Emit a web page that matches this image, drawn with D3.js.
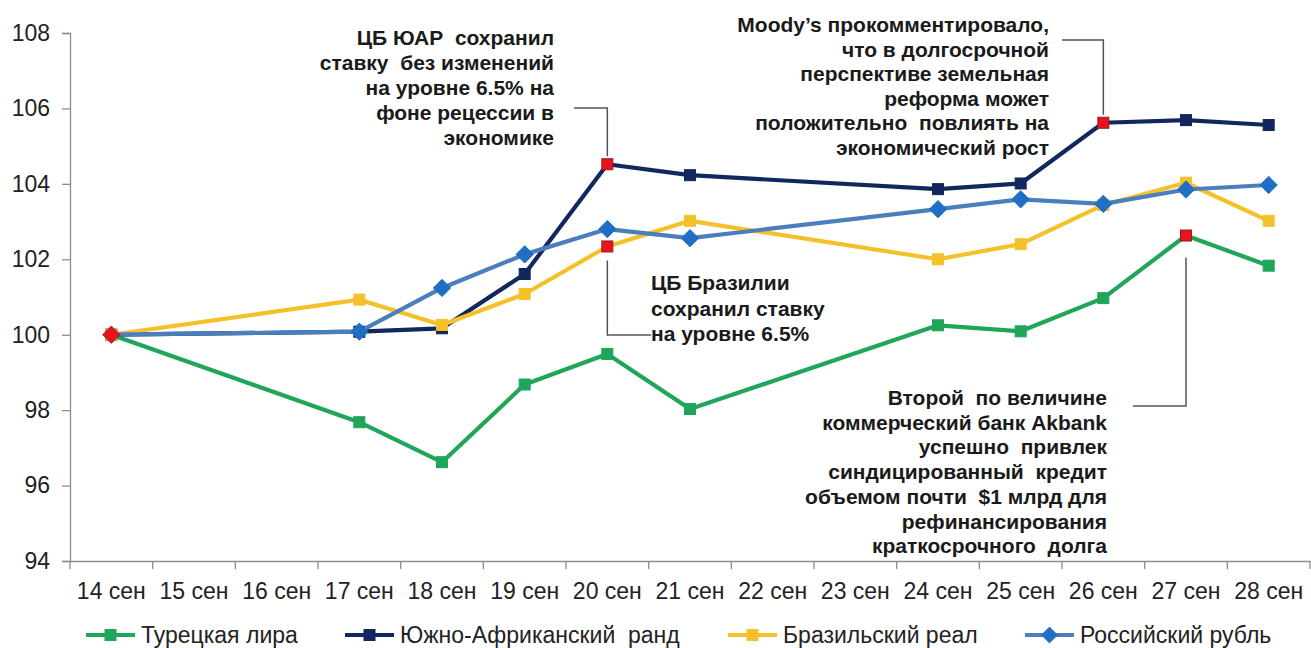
<!DOCTYPE html>
<html>
<head>
<meta charset="utf-8">
<script src="https://cdn.jsdelivr.net/npm/d3@7"></script>
<style>
  html, body { margin: 0; padding: 0; background: #fff; }
  svg { display: block; font-family: "Liberation Sans", Arial, sans-serif; }
</style>
</head>
<body>
<svg id="chart" width="1311" height="648"></svg>
<script>
// ---- data ----
const categories = ["14 сен","15 сен","16 сен","17 сен","18 сен","19 сен","20 сен","21 сен","22 сен","23 сен","24 сен","25 сен","26 сен","27 сен","28 сен"];
const yTicks = [94, 96, 98, 100, 102, 104, 106, 108];

const tryValues = [100, null, null, 97.68, 96.62, 98.68, 99.49, 98.03, null, null, 100.25, 100.09, 100.97, 102.63, 101.83];
const zarValues = [100, null, null, 100.08, 100.17, 101.61, 104.52, 104.23, null, null, 103.86, 104.01, 105.62, 105.69, 105.56];
const brlValues = [100, null, null, 100.93, 100.26, 101.08, 102.34, 103.02, null, null, 102.00, 102.40, 103.44, 104.03, 103.02];
const rubValues = [100, null, null, 100.08, 101.24, 102.13, 102.80, 102.56, null, null, 103.33, 103.59, 103.47, 103.85, 103.97];

const seriesNames = ["Турецкая лира", "Южно-Африканский  ранд", "Бразильский реал", "Российский рубль"];
// highlighted (red) points per series
const tryHighlights = ["27 сен"];
const zarHighlights = ["20 сен", "26 сен"];
const brlHighlights = ["20 сен"];
const rubHighlights = ["14 сен"];

const annZar = ["ЦБ ЮАР  сохранил", "ставку  без изменений", "на уровне 6.5% на", "фоне рецессии в", "экономике"];
const annMoody = ["Moody’s прокомментировало,", "что в долгосрочной", "перспективе земельная", "реформа может", "положительно  повлиять на", "экономический рост"];
const annBrl = ["ЦБ Бразилии", "сохранил ставку", "на уровне 6.5%"];
const annTry = ["Второй  по величине", "коммерческий банк Akbank", "успешно  привлек", "синдицированный  кредит", "объемом почти  $1 млрд для", "рефинансирования", "краткосрочного  долга"];

// ---- setup ----
const svg = d3.select("#chart");
const mLeft = 70, mRight = 1310, mTop = 33, mBottom = 561;

const x = d3.scaleBand().domain(categories).range([mLeft, mRight]).padding(0);
const y = d3.scaleLinear().domain([94, 108]).range([mBottom, mTop]);
const cx = c => x(c) + x.bandwidth() / 2;

const series = [
  { name: seriesNames[0], values: tryValues, line: "#1fa65a", marker: "#1fa65a", shape: "square", hl: tryHighlights },
  { name: seriesNames[1], values: zarValues, line: "#13275f", marker: "#13275f", shape: "square", hl: zarHighlights },
  { name: seriesNames[2], values: brlValues, line: "#f5c12b", marker: "#f5c12b", shape: "square", hl: brlHighlights },
  { name: seriesNames[3], values: rubValues, line: "#4b7fbc", marker: "#1f6fc4", shape: "diamond", hl: rubHighlights }
];

// ---- axes ----
const axisColor = "#8c8c8c";
const yAxis = svg.append("g").attr("transform", `translate(${mLeft},0)`)
  .call(d3.axisLeft(y).tickValues(yTicks).tickSize(8).tickPadding(12));
yAxis.select(".domain").attr("stroke", axisColor).attr("stroke-width", 1.3);
yAxis.selectAll(".tick line").attr("stroke", axisColor).attr("stroke-width", 1.3);
yAxis.selectAll("text").attr("font-size", 23).attr("fill", "#222")
  .attr("font-family", "'Liberation Sans', Arial, sans-serif");

const xAxis = svg.append("g").attr("transform", `translate(0,${mBottom})`)
  .call(d3.axisBottom(x).tickSize(0).tickPadding(22));
xAxis.select(".domain").attr("stroke", axisColor).attr("stroke-width", 1.3);
xAxis.selectAll("text").attr("font-size", 23).attr("fill", "#222")
  .attr("font-family", "'Liberation Sans', Arial, sans-serif");
// boundary tick marks
const bounds = categories.map(c => x(c)).concat([x.range()[1]]);
xAxis.selectAll(".btick").data(bounds).enter().append("line")
  .attr("x1", d => d).attr("x2", d => d).attr("y1", 0).attr("y2", 8)
  .attr("stroke", axisColor).attr("stroke-width", 1.3);

// ---- lines ----
const lineGen = d3.line()
  .x(d => cx(d.c))
  .y(d => y(d.v));

function drawMarker(g, shape, px, py, fill, stroke, size) {
  if (shape === "square") {
    g.append("rect").attr("x", px - size / 2).attr("y", py - size / 2)
      .attr("width", size).attr("height", size)
      .attr("fill", fill).attr("stroke", stroke).attr("stroke-width", 1);
  } else {
    const s = size * 0.72;
    g.append("path")
      .attr("d", `M${px},${py - s} L${px + s},${py} L${px},${py + s} L${px - s},${py} Z`)
      .attr("fill", fill).attr("stroke", stroke).attr("stroke-width", 1);
  }
}

series.forEach(s => {
  const pts = categories.map((c, i) => ({ c, v: s.values[i] })).filter(d => d.v !== null);
  const g = svg.append("g");
  g.append("path").datum(pts).attr("d", lineGen)
    .attr("fill", "none").attr("stroke", s.line).attr("stroke-width", 4.2)
    .attr("stroke-linejoin", "round");
  pts.forEach(d => {
    const red = s.hl.includes(d.c);
    drawMarker(g, s.shape, cx(d.c), y(d.v),
      red ? "#e8131d" : s.marker,
      red ? "#9a1b1b" : s.marker,
      s.shape === "square" ? 11 : 12);
  });
});

// ---- annotations ----
const annColor = "#1a1a1a";
function textBlock(lines, xPos, yFirst, anchor, lh) {
  const t = svg.append("g");
  lines.forEach((l, i) => {
    t.append("text").attr("x", xPos).attr("y", yFirst + i * lh)
      .attr("text-anchor", anchor).attr("font-size", 21).attr("font-weight", "bold")
      .attr("fill", annColor).attr("xml:space", "preserve")
      .style("white-space", "pre").text(l);
  });
}
function connector(points) {
  svg.append("path").attr("d", d3.line()(points))
    .attr("fill", "none").attr("stroke", "#555").attr("stroke-width", 1.5);
}

// ZAR 20 сен
textBlock(annZar, 554, 45, "end", 25);
connector([[574, 108], [cx("20 сен"), 108], [cx("20 сен"), y(zarValues[6]) - 8]]);

// Moody's 26 сен
textBlock(annMoody, 1049, 32, "end", 24.6);
connector([[1062, 40], [cx("26 сен"), 40], [cx("26 сен"), y(zarValues[12]) - 8]]);

// Brazil 20 сен
textBlock(annBrl, 651, 290, "start", 25.5);
connector([[cx("20 сен"), y(brlValues[6]) + 14], [cx("20 сен"), 335], [651, 335]]);

// Akbank 27 сен
textBlock(annTry, 1107, 405, "end", 24.7);
connector([[1133, 406], [cx("27 сен"), 406], [cx("27 сен"), y(tryValues[13]) + 22]]);

// ---- legend ----
const legendX = [86, 345, 728, 1025];
const legend = svg.append("g");
series.forEach((s, i) => {
  const lx = legendX[i], ly = 635;
  legend.append("line").attr("x1", lx).attr("x2", lx + 49).attr("y1", ly).attr("y2", ly)
    .attr("stroke", s.line).attr("stroke-width", 4.2);
  drawMarker(legend, s.shape, lx + 24.5, ly, s.marker, s.marker, 11);
  legend.append("text").attr("x", lx + 55).attr("y", 643)
    .attr("font-size", 23).attr("fill", "#222").attr("xml:space", "preserve")
    .style("white-space", "pre").text(s.name);
});
</script>
</body>
</html>
